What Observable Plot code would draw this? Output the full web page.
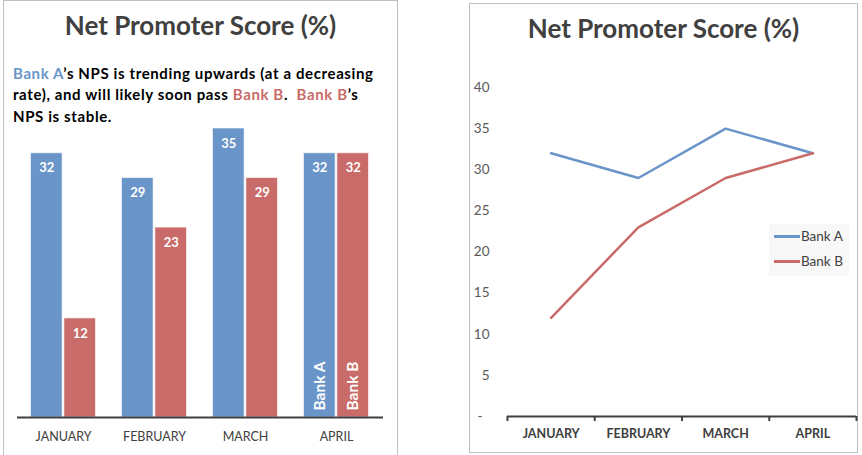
<!DOCTYPE html>
<html><head><meta charset="utf-8">
<script src="https://cdn.jsdelivr.net/npm/d3@7"></script>
<script src="https://cdn.jsdelivr.net/npm/@observablehq/plot@0.6"></script>
<style>
body{margin:0;background:#fff;font-family:Lato,"Open Sans",sans-serif;}
#page{position:relative;width:862px;height:455px;overflow:hidden;background:#fff;}
.panel{position:absolute;border:1px solid #bfbfbf;box-sizing:border-box;}
.title{position:absolute;font-weight:bold;font-size:26px;line-height:30px;color:#404040;text-align:center;white-space:nowrap;}
#sub{position:absolute;left:13px;top:62.5px;font-weight:bold;font-size:15px;letter-spacing:0.62px;line-height:21.7px;color:#000;white-space:nowrap;}
.abs{position:absolute;}
#legend{position:absolute;left:769px;top:224px;width:80px;height:52px;background:#f8f8f8;}
.lgline{position:absolute;left:5px;width:26px;height:3px;}
.lgtext{position:absolute;left:32px;font-size:13.5px;line-height:16px;color:#404040;white-space:nowrap;}
</style></head>
<body>
<div id="page">
  <div class="panel" style="left:3px;top:0px;width:395px;height:470px;"></div>
  <div class="panel" style="left:469px;top:3px;width:389px;height:450px;"></div>
  <div class="title" style="left:3px;width:395px;top:10.3px;">Net Promoter Score (%)</div>
  <div class="title" style="left:469px;width:389px;top:13.3px;">Net Promoter Score (%)</div>
  <div id="sub"></div>
  <div id="left" class="abs" style="left:0px;top:120px;"></div>
  <div id="right" class="abs" style="left:431px;top:60px;"></div>
  <div id="legend"></div>
</div>
<script>
const months = ["JANUARY", "FEBRUARY", "MARCH", "APRIL"];
const bankA = [32, 29, 35, 32];
const bankB = [12, 23, 29, 32];
const seriesNames = ["Bank A", "Bank B"];
const seriesColors = ["#6a95c8", "#c96b68"];
const yTicks = [0, 5, 10, 15, 20, 25, 30, 35, 40];
const subtitleParts = [
  ["Bank A", 0], ["’s NPS is trending upwards (at a decreasing", -1], ["\n", -1],
  ["rate), and will likely soon pass ", -1], ["Bank B", 1], [".  ", -1], ["Bank B", 1], ["’s", -1], ["\n", -1],
  ["NPS is stable.", -1]
];

// subtitle
const sub = document.getElementById("sub");
for (const [t, c] of subtitleParts) {
  if (t === "\n") { sub.appendChild(document.createElement("br")); continue; }
  const s = document.createElement("span");
  s.textContent = t.replace(/  /g, "\u00a0 ");
  if (c >= 0) s.style.color = seriesColors[c];
  sub.appendChild(s);
}

const series = [bankA, bankB];
const tables = series.map(vals => months.map((m, i) => ({month: m, pos: i + 0.5, value: vals[i]})));

// ---------- Left: grouped bars ----------
const LW = 400, LH = 330, mL = 17, mR = 17, pIn = 0.27, pOut = 0.135;
const step = (LW - mL - mR) / (months.length - pIn + 2 * pOut);
const half = step * (1 - pIn) / 2;

const leftMarks = [];
series.forEach((vals, k) => {
  const sign = k === 0 ? -1 : 1;
  leftMarks.push(Plot.barY(tables[k], {
    x: "month", y: "value", fill: seriesColors[k],
    insetLeft: k === 0 ? 0.5 : half + 0.5, insetRight: k === 0 ? half + 0.5 : 0.5,
    stroke: "#ffffff", strokeOpacity: 0.6, strokeWidth: 1
  }));
  leftMarks.push(Plot.text(tables[k], {
    x: "month", y: "value", text: d => String(d.value), dx: sign * half / 2, dy: 15,
    fill: "white", fontWeight: "bold", fontSize: 13
  }));
  leftMarks.push(Plot.text([seriesNames[k]], {
    x: () => months[months.length - 1], y: () => 0, text: d => d,
    dx: sign * half / 2, dy: -7, rotate: -90, textAnchor: "start",
    fill: "white", fontWeight: "bold", fontSize: 15.5
  }));
});
leftMarks.push(Plot.ruleY([0], {stroke: "#404040", strokeWidth: 2}));
leftMarks.push(Plot.axisX({tickSize: 0, tickPadding: 15, fontSize: 12.5, color: "#404040", label: null}));

const left = Plot.plot({
  width: LW, height: LH, marginLeft: mL, marginRight: mR, marginTop: 8, marginBottom: 33,
  x: {type: "band", domain: months, paddingInner: pIn, paddingOuter: pOut, label: null},
  y: {domain: [0, 35], axis: null, label: null},
  style: {fontFamily: "Lato, 'Open Sans', sans-serif", background: "transparent", overflow: "visible"},
  marks: leftMarks
});
document.getElementById("left").appendChild(left);

// ---------- Right: lines ----------
const rightMarks = [
  Plot.axisY({ticks: yTicks, tickSize: 0, tickPadding: 18, fontSize: 13.5, color: "#595959", label: null,
    tickFormat: d => d === 0 ? "-\u00a0\u00a0" : String(d)}),
  Plot.ruleY([0], {stroke: "#404040", strokeWidth: 2}),
  Plot.axisX({ticks: d3.range(months.length + 1), tickSize: 5, strokeWidth: 2, color: "#404040", label: null, tickFormat: () => ""}),
  Plot.axisX({ticks: months.map((m, i) => i + 0.5), tickSize: 0, tickPadding: 13, fontSize: 12.5, label: null,
    fontWeight: "bold", color: "#404040", tickFormat: d => months[Math.round(d - 0.5)]})
];
series.forEach((vals, k) => {
  rightMarks.push(Plot.line(tables[k], {x: "pos", y: "value", stroke: seriesColors[k], strokeWidth: 2.5, strokeLinejoin: "miter"}));
});
const right = Plot.plot({
  width: 431, height: 395, marginLeft: 76, marginRight: 6, marginTop: 27, marginBottom: 39,
  x: {domain: [0, months.length], axis: null, label: null},
  y: {domain: [0, 40], axis: null, label: null},
  style: {fontFamily: "Lato, 'Open Sans', sans-serif", background: "transparent", overflow: "visible"},
  marks: rightMarks
});
document.getElementById("right").appendChild(right);

// legend
const lg = document.getElementById("legend");
seriesNames.forEach((n, k) => {
  const l = document.createElement("div");
  l.className = "lgline"; l.style.top = (12 + k * 25 - 1.5) + "px"; l.style.background = seriesColors[k];
  const t = document.createElement("div");
  t.className = "lgtext"; t.style.top = (12 + k * 25 - 8) + "px"; t.textContent = n;
  lg.appendChild(l); lg.appendChild(t);
});
</script>
</body></html>
